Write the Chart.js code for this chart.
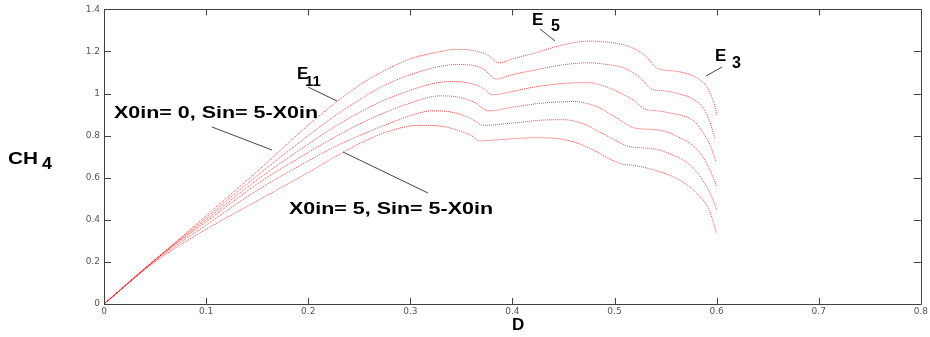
<!DOCTYPE html>
<html>
<head>
<meta charset="utf-8">
<script src="https://cdn.jsdelivr.net/npm/chart.js@4.4.1/dist/chart.umd.min.js"></script>
<style>
  html, body { margin: 0; padding: 0; background: #fff; }
  #wrap { width: 930px; height: 337px; }
</style>
</head>
<body>
<div id="wrap"><canvas id="myChart"></canvas></div>
<script>
const xTicks = [0, 0.1, 0.2, 0.3, 0.4, 0.5, 0.6, 0.7, 0.8];
const yTicks = [0, 0.2, 0.4, 0.6, 0.8, 1, 1.2, 1.4];

// curve for X0in = 0 (top) ... X0in = 5 (bottom)
const c1x = [0, 0.05, 0.1, 0.15, 0.2, 0.225, 0.25, 0.275, 0.3, 0.325, 0.345, 0.36, 0.375, 0.387, 0.40, 0.42, 0.45, 0.475, 0.50, 0.515, 0.53, 0.542, 0.557, 0.57, 0.582, 0.59, 0.595, 0.598, 0.60];
const c1y = [0, 0.21, 0.42, 0.63, 0.85, 0.95, 1.04, 1.11, 1.165, 1.195, 1.21, 1.206, 1.185, 1.146, 1.165, 1.19, 1.232, 1.249, 1.24, 1.222, 1.18, 1.12, 1.108, 1.096, 1.07, 1.035, 0.985, 0.945, 0.90];

const c2x = [0, 0.05, 0.1, 0.15, 0.2, 0.225, 0.25, 0.275, 0.3, 0.325, 0.345, 0.36, 0.372, 0.384, 0.40, 0.42, 0.45, 0.474, 0.49, 0.51, 0.525, 0.536, 0.55, 0.562, 0.578, 0.587, 0.593, 0.598];
const c2y = [0, 0.21, 0.41, 0.61, 0.8, 0.89, 0.97, 1.04, 1.09, 1.125, 1.138, 1.135, 1.115, 1.069, 1.09, 1.11, 1.137, 1.146, 1.14, 1.12, 1.075, 1.022, 1.012, 1.0, 0.97, 0.93, 0.87, 0.79];

const c3x = [0, 0.05, 0.1, 0.15, 0.2, 0.225, 0.25, 0.275, 0.3, 0.32, 0.338, 0.355, 0.37, 0.381, 0.40, 0.42, 0.45, 0.474, 0.49, 0.503, 0.518, 0.529, 0.542, 0.555, 0.578, 0.586, 0.594, 0.599];
const c3y = [0, 0.21, 0.40, 0.59, 0.76, 0.84, 0.91, 0.97, 1.015, 1.045, 1.057, 1.052, 1.03, 0.994, 1.01, 1.03, 1.048, 1.052, 1.035, 1.009, 0.97, 0.928, 0.918, 0.907, 0.868, 0.82, 0.75, 0.68];

const c4x = [0, 0.05, 0.1, 0.15, 0.2, 0.225, 0.25, 0.275, 0.3, 0.315, 0.328, 0.345, 0.362, 0.377, 0.40, 0.43, 0.46, 0.484, 0.50, 0.52, 0.535, 0.549, 0.562, 0.575, 0.585, 0.593, 0.6];
const c4y = [0, 0.21, 0.39, 0.57, 0.72, 0.79, 0.855, 0.91, 0.955, 0.978, 0.989, 0.985, 0.96, 0.918, 0.935, 0.955, 0.962, 0.935, 0.89, 0.836, 0.83, 0.821, 0.795, 0.759, 0.71, 0.64, 0.56];

const c5x = [0, 0.05, 0.1, 0.15, 0.2, 0.225, 0.25, 0.275, 0.3, 0.321, 0.34, 0.358, 0.372, 0.40, 0.43, 0.45, 0.47, 0.484, 0.50, 0.513, 0.528, 0.542, 0.556, 0.569, 0.58, 0.59, 0.596, 0.6];
const c5y = [0, 0.205, 0.375, 0.54, 0.68, 0.745, 0.8, 0.85, 0.895, 0.918, 0.912, 0.885, 0.849, 0.86, 0.874, 0.876, 0.855, 0.821, 0.78, 0.75, 0.742, 0.734, 0.71, 0.679, 0.63, 0.56, 0.5, 0.448];

const c6x = [0, 0.05, 0.1, 0.15, 0.2, 0.233, 0.26, 0.285, 0.308, 0.33, 0.35, 0.36, 0.368, 0.39, 0.42, 0.44, 0.46, 0.48, 0.495, 0.506, 0.52, 0.542, 0.565, 0.581, 0.593, 0.6];
const c6y = [0, 0.2, 0.355, 0.49, 0.625, 0.718, 0.785, 0.83, 0.849, 0.845, 0.82, 0.8, 0.775, 0.782, 0.79, 0.788, 0.77, 0.73, 0.69, 0.667, 0.658, 0.632, 0.585, 0.523, 0.443, 0.335];

const curves = [[c1x, c1y], [c2x, c2y], [c3x, c3y], [c4x, c4y], [c5x, c5y], [c6x, c6y]];

const pts = (xs, ys) => xs.map((x, i) => ({ x: x, y: ys[i] }));
const fmt = v => String(Number(v.toFixed(1)));

// box with inward ticks on all four sides (matlab style)
const boxPlugin = {
  id: 'box',
  afterDatasetsDraw(chart) {
    const { ctx, chartArea: a, scales: { x, y } } = chart;
    ctx.save();
    ctx.strokeStyle = '#404040';
    ctx.lineWidth = 1;
    ctx.beginPath();
    ctx.rect(Math.round(a.left) + 0.5, Math.round(a.top) + 0.5, Math.round(a.right - a.left), Math.round(a.bottom - a.top));
    xTicks.forEach(v => {
      const px = Math.round(x.getPixelForValue(v)) + 0.5;
      ctx.moveTo(px, a.bottom); ctx.lineTo(px, a.bottom - 6);
      ctx.moveTo(px, a.top); ctx.lineTo(px, a.top + 6);
    });
    yTicks.forEach(v => {
      const py = Math.round(y.getPixelForValue(v)) + 0.5;
      ctx.moveTo(a.left, py); ctx.lineTo(a.left + 7, py);
      ctx.moveTo(a.right, py); ctx.lineTo(a.right - 7, py);
    });
    ctx.stroke();
    ctx.restore();
  }
};

const textPlugin = {
  id: 'labels',
  afterDraw(chart) {
    const ctx = chart.ctx;
    ctx.save();
    ctx.fillStyle = '#000';
    ctx.textBaseline = 'alphabetic';
    ctx.textAlign = 'left';
    const big = 'bold 17px "Liberation Sans", Arial, sans-serif';
    const sub = 'bold 16px "Liberation Sans", Arial, sans-serif';
    // text stretched sideways to the width it has in the picture
    const put = (s, x, yb, font, w) => {
      ctx.font = font;
      const k = w ? w / ctx.measureText(s).width : 1;
      ctx.save();
      ctx.translate(x, yb);
      ctx.scale(k, 1);
      ctx.fillText(s, 0, 0);
      ctx.restore();
    };
    put('CH', 8, 164, big, 30);
    put('4', 42, 169, sub, 10);
    put('E', 297, 79, big, 0);
    put('11', 305, 86, 'bold 15px "Liberation Sans", Arial, sans-serif', 0);
    put('E', 532, 25, big, 0);
    put('5', 551, 31, sub, 0);
    put('E', 715, 61, big, 0);
    put('3', 732, 68, sub, 0);
    put('X0in= 0, Sin= 5-X0in', 114, 118, big, 204);
    put('X0in= 5, Sin= 5-X0in', 289, 214, big, 204);
    put('D', 512, 330, 'bold 17px "Liberation Sans", Arial, sans-serif', 0);

    // pointer lines
    ctx.strokeStyle = '#444';
    ctx.lineWidth = 1;
    ctx.beginPath();
    ctx.moveTo(212, 127); ctx.lineTo(272, 150);
    ctx.moveTo(343, 152); ctx.lineTo(428, 193);
    ctx.moveTo(308, 87); ctx.lineTo(337, 101);
    ctx.moveTo(540, 29); ctx.lineTo(555, 41);
    ctx.moveTo(722, 67); ctx.lineTo(706, 76);
    ctx.stroke();
    ctx.restore();
  }
};

const ctx = document.getElementById('myChart').getContext('2d');

const myChart = new Chart(ctx, {
  type: 'scatter',
  data: {
    datasets: curves.map(c => ({
      data: pts(c[0], c[1]),
      showLine: true,
      borderColor: 'rgba(255, 0, 0, 0.75)',
      borderWidth: 1,
      borderDash: [1, 1],
      pointRadius: 0,
      cubicInterpolationMode: 'monotone'
    }))
  },
  options: {
    responsive: true,
    maintainAspectRatio: false,
    animation: false,
    layout: { padding: { top: 7, right: 6, left: 0, bottom: 0 } },
    plugins: { legend: { display: false }, tooltip: { enabled: false } },
    scales: {
      x: {
        type: 'linear',
        min: 0, max: 0.8,
        afterBuildTicks: s => { s.ticks = xTicks.map(v => ({ value: v })); },
        afterFit: s => { s.height = 33; },
        grid: { display: false, drawTicks: false },
        border: { display: false },
        ticks: { color: '#555', padding: 2, font: { family: 'DejaVu Sans', size: 9 }, maxRotation: 0, callback: fmt }
      },
      y: {
        type: 'linear',
        min: 0, max: 1.4,
        afterBuildTicks: s => { s.ticks = yTicks.map(v => ({ value: v })); },
        afterFit: s => { s.width = 104; },
        grid: { display: false, drawTicks: false },
        border: { display: false },
        ticks: { color: '#555', padding: 4, font: { family: 'DejaVu Sans', size: 9 }, callback: fmt }
      }
    }
  },
  plugins: [boxPlugin, textPlugin]
});
</script>
</body>
</html>
